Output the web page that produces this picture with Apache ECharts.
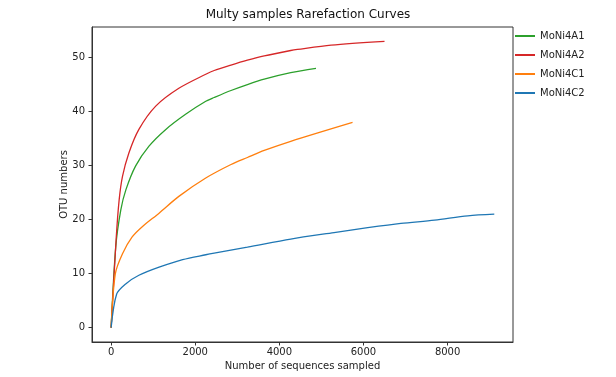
<!DOCTYPE html>
<html>
<head>
<meta charset="utf-8">
<script src="https://cdn.jsdelivr.net/npm/echarts@6/dist/echarts.min.js"></script>
<style>html,body{margin:0;padding:0;background:#fff}#c{width:616px;height:377px}</style>
</head>
<body>
<div id="c"></div>
<script>
const seriesNames = ['MoNi4A1', 'MoNi4A2', 'MoNi4C1', 'MoNi4C2'];
const xA1 = [0, 110, 230, 350, 580, 900, 1300, 1770, 2250, 2450, 2850, 3240, 3640, 4270, 4870];
const yA1 = [0, 15, 21.8, 25.5, 29.9, 33.6, 36.7, 39.5, 41.9, 42.6, 43.9, 45.0, 46.0, 47.2, 48.0];
const xA2 = [0, 120, 190, 270, 420, 660, 1060, 1610, 2250, 2450, 2850, 3240, 3640, 4270, 4430, 5230, 6500];
const yA2 = [0, 16.5, 23.6, 28.0, 32.3, 36.7, 41.0, 44.3, 46.9, 47.6, 48.6, 49.5, 50.3, 51.3, 51.5, 52.3, 53.0];
const xC1 = [0, 100, 270, 500, 740, 1140, 1610, 2250, 2850, 3240, 3640, 4270, 5740];
const yC1 = [0, 10.0, 13.7, 16.8, 18.7, 21.2, 24.3, 27.7, 30.2, 31.5, 32.8, 34.5, 38.0];
const xC2 = [0, 130, 345, 660, 1140, 1700, 2250, 2450, 3240, 4270, 5300, 6100, 6890, 7690, 8480, 9110];
const yC2 = [0, 6.2, 8.1, 9.7, 11.2, 12.6, 13.5, 13.8, 14.9, 16.4, 17.6, 18.5, 19.3, 19.9, 20.7, 21.0];
const xTicks = [0, 2000, 4000, 6000, 8000];
const yTicks = [0, 10, 20, 30, 40, 50];
const colors = ['#2ca02c', '#d62728', '#ff7f0e', '#1f77b4'];

const xs = [xA1, xA2, xC1, xC2];
const ys = [yA1, yA2, yC1, yC2];
const font = 'DejaVu Sans';

const chart = echarts.init(document.getElementById('c'), null, {renderer: 'canvas'});
chart.setOption({
  animation: false,
  backgroundColor: '#fff',
  title: {
    text: 'Multy samples Rarefaction Curves',
    left: 303, top: 4, textAlign: 'center',
    textStyle: {fontFamily: font, fontSize: 12, fontWeight: 'normal', color: '#111'}
  },
  legend: {
    orient: 'vertical', left: 515, top: 31, padding: 0,
    itemWidth: 20, itemHeight: 2, itemGap: 9,
    icon: 'rect',
    data: seriesNames,
    textStyle: {fontFamily: font, fontSize: 10, color: '#222'}
  },
  grid: {left: 92, right: 103, top: 27, bottom: 35, show: true, borderColor: '#333', borderWidth: 1},
  xAxis: {
    type: 'value', min: -455, max: 9555,
    name: 'Number of sequences sampled', nameLocation: 'middle', nameGap: 19, nameMoveOverlap: false,
    nameTextStyle: {fontFamily: font, fontSize: 10, color: '#222'},
    axisLine: {show: true, onZero: false, lineStyle: {color: '#333'}},
    axisTick: {show: true, length: 3.5, customValues: xTicks, lineStyle: {color: '#333'}},
    axisLabel: {customValues: xTicks, margin: 5, fontFamily: font, fontSize: 10, color: '#222',
      formatter: v => String(v)},
    splitLine: {show: false}
  },
  yAxis: {
    type: 'value', min: -2.65, max: 55.65,
    name: 'OTU numbers', nameLocation: 'middle', nameGap: 23, nameMoveOverlap: false,
    nameTextStyle: {fontFamily: font, fontSize: 10, color: '#222'},
    axisLine: {show: true, onZero: false, lineStyle: {color: '#333'}},
    axisTick: {show: true, length: 3.5, customValues: yTicks, lineStyle: {color: '#333'}},
    axisLabel: {customValues: yTicks, margin: 7, fontFamily: font, fontSize: 10, color: '#222',
      formatter: v => String(v)},
    splitLine: {show: false}
  },
  series: seriesNames.map((n, i) => ({
    name: n, type: 'line', showSymbol: false, symbol: 'none',
    smooth: 0.3,
    color: colors[i],
    lineStyle: {width: 1.3, color: colors[i]},
    data: xs[i].map((x, j) => [x, ys[i][j]])
  }))
});
</script>
</body>
</html>
